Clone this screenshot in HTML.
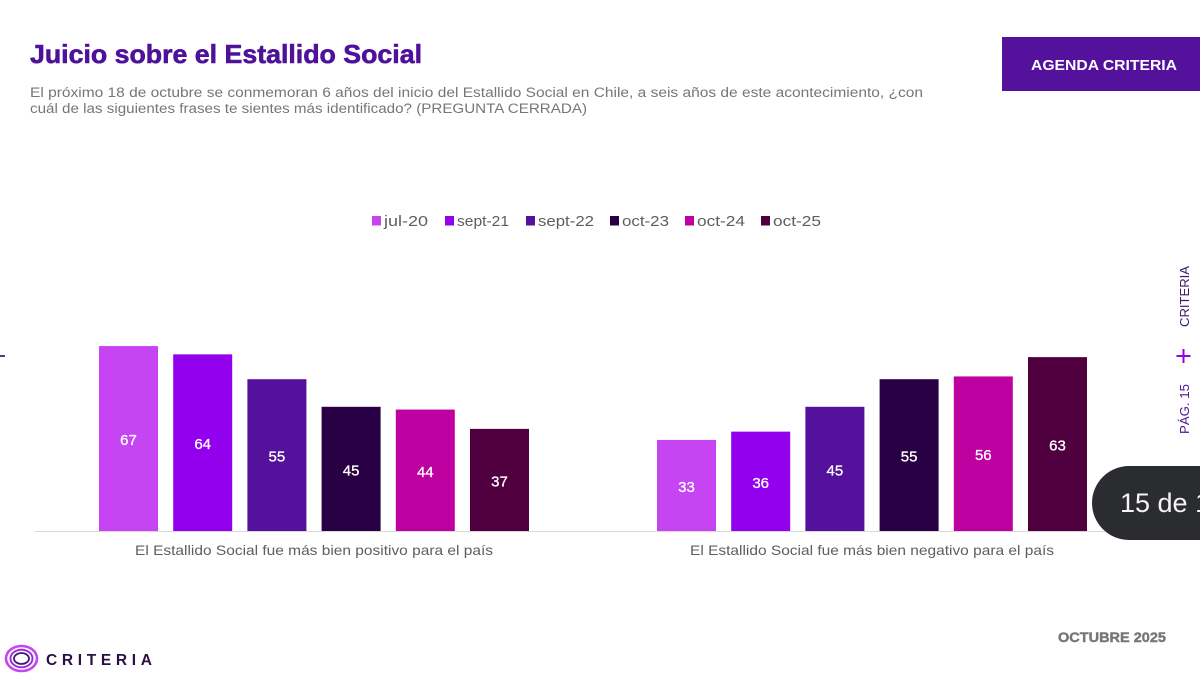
<!DOCTYPE html>
<html lang="es">
<head>
<meta charset="utf-8">
<title>Juicio sobre el Estallido Social</title>
<style>
html,body{margin:0;padding:0;background:#fff;width:1200px;height:682px;overflow:hidden}
svg{display:block;font-family:"Liberation Sans",sans-serif}
</style>
</head>
<body>
<svg id="slide" xmlns="http://www.w3.org/2000/svg" width="1200" height="682" viewBox="0 0 1200 682">
  <rect x="0" y="0" width="1200" height="682" fill="#ffffff"/>
  <text x="30" y="63" font-size="26" font-weight="700" fill="#4e1199" stroke="#4e1199" stroke-width="0.6" textLength="392" lengthAdjust="spacingAndGlyphs">Juicio sobre el Estallido Social</text>
  <text x="30" y="97" font-size="13.5" fill="#77757a" textLength="893" lengthAdjust="spacingAndGlyphs">El próximo 18 de octubre se conmemoran 6 años del inicio del Estallido Social en Chile, a seis años de este acontecimiento, ¿con</text>
  <text x="30" y="113" font-size="13.5" fill="#77757a" textLength="557" lengthAdjust="spacingAndGlyphs">cuál de las siguientes frases te sientes más identificado? (PREGUNTA CERRADA)</text>

  <g>
    <rect x="1002" y="37" width="198" height="54" fill="#54119c"/>
    <text x="1031" y="70" font-size="15" font-weight="700" fill="#ffffff" textLength="146" lengthAdjust="spacingAndGlyphs">AGENDA CRITERIA</text>
  </g>

  <g font-size="15" fill="#5f5d62">
    <g>
      <rect x="372" y="216" width="9" height="9.5" fill="#c644f2"/>
      <text x="384" y="226" textLength="44" lengthAdjust="spacingAndGlyphs">jul-20</text>
    </g>
    <g>
      <rect x="445" y="216" width="9" height="9.5" fill="#9300ee"/>
      <text x="457" y="226" textLength="52" lengthAdjust="spacingAndGlyphs">sept-21</text>
    </g>
    <g>
      <rect x="526" y="216" width="9" height="9.5" fill="#54119c"/>
      <text x="538" y="226" textLength="56" lengthAdjust="spacingAndGlyphs">sept-22</text>
    </g>
    <g>
      <rect x="610" y="216" width="9" height="9.5" fill="#2a0045"/>
      <text x="622" y="226" textLength="47" lengthAdjust="spacingAndGlyphs">oct-23</text>
    </g>
    <g>
      <rect x="685" y="216" width="9" height="9.5" fill="#bf00a0"/>
      <text x="697" y="226" textLength="48" lengthAdjust="spacingAndGlyphs">oct-24</text>
    </g>
    <g>
      <rect x="761" y="216" width="9" height="9.5" fill="#50003f"/>
      <text x="773" y="226" textLength="48" lengthAdjust="spacingAndGlyphs">oct-25</text>
    </g>
  </g>

  <line x1="0" y1="356" x2="5" y2="356" stroke="#2a0a55" stroke-width="1.6"/>
  <g id="chart"></g>

  <g>
    <text transform="translate(1189 327) rotate(-90)" font-size="13" fill="#3d1a66" textLength="61" lengthAdjust="spacingAndGlyphs">CRITERIA</text>
    <path d="M1176.5 356H1190.5M1183.5 349V363" stroke="#9300ee" stroke-width="2" fill="none"/>
    <text transform="translate(1189 434) rotate(-90)" font-size="13" fill="#4e1199" textLength="50" lengthAdjust="spacingAndGlyphs">PÁG. 15</text>
  </g>

  <g>
    <rect x="1092" y="466" width="170" height="74" rx="37" ry="37" fill="#2b2c30"/>
    <text x="1120" y="512" font-size="27" fill="#f4f4f4">15 de 1</text>
  </g>

  <text x="1058" y="642" font-size="13.5" font-weight="700" fill="#77757a" stroke="#77757a" stroke-width="0.4" textLength="108" lengthAdjust="spacingAndGlyphs">OCTUBRE 2025</text>

  <g>
    <ellipse cx="21.5" cy="658.5" rx="15.5" ry="12.5" fill="none" stroke="#c644f2" stroke-width="2.6"/>
    <ellipse cx="21.5" cy="658.5" rx="11" ry="8.8" fill="none" stroke="#9a2fd8" stroke-width="2"/>
    <ellipse cx="21.5" cy="658.5" rx="7.5" ry="5.5" fill="none" stroke="#3b1a78" stroke-width="1.8"/>
    <text x="46" y="665" font-size="15.5" font-weight="700" fill="#2a1045" textLength="106" lengthAdjust="spacing">CRITERIA</text>
  </g>
</svg>

<script>
const categories = [
  "El Estallido Social fue más bien positivo para el país",
  "El Estallido Social fue más bien negativo para el país"
];
const seriesNames = ["jul-20", "sept-21", "sept-22", "oct-23", "oct-24", "oct-25"];
const positiveValues = [67, 64, 55, 45, 44, 37];
const negativeValues = [33, 36, 45, 55, 56, 63];

const seriesColors = ["#c644f2", "#9300ee", "#54119c", "#2a0045", "#bf00a0", "#50003f"];

const SVG_NS = "http://www.w3.org/2000/svg";
const chart = document.getElementById("chart");

const plotLeft = 35;
const bandWidth = 558;
const barWidth = 59;
const barStep = 74.2;
const baseline = 531;
const pixelsPerUnit = 2.76;

function xBand(categoryIndex) {
  return plotLeft + bandWidth * categoryIndex + bandWidth / 2;
}
function xBar(categoryIndex, seriesIndex) {
  const offset = (seriesIndex - (seriesNames.length - 1) / 2) * barStep;
  return xBand(categoryIndex) + offset - barWidth / 2;
}
function yValue(value) {
  return baseline - value * pixelsPerUnit;
}

const groups = [positiveValues, negativeValues];

const axisLine = document.createElementNS(SVG_NS, "line");


axisLine.setAttribute("x1", plotLeft);
axisLine.setAttribute("x2", plotLeft + bandWidth * categories.length);
axisLine.setAttribute("y1", baseline + 0.5);
axisLine.setAttribute("y2", baseline + 0.5);
axisLine.setAttribute("stroke", "#d9d9d9");
axisLine.setAttribute("stroke-width", "1");
chart.appendChild(axisLine);

groups.forEach(function (values, categoryIndex) {
  values.forEach(function (value, seriesIndex) {
    const bar = document.createElementNS(SVG_NS, "rect");
    
    
    bar.setAttribute("x", xBar(categoryIndex, seriesIndex));
    bar.setAttribute("y", yValue(value));
    bar.setAttribute("width", barWidth);
    bar.setAttribute("height", baseline - yValue(value));
    bar.setAttribute("fill", seriesColors[seriesIndex]);
    chart.appendChild(bar);

    const label = document.createElementNS(SVG_NS, "text");
    
    
    label.setAttribute("x", xBar(categoryIndex, seriesIndex) + barWidth / 2);
    label.setAttribute("y", (yValue(value) + baseline) / 2 + 6.5);
    label.setAttribute("text-anchor", "middle");
    label.setAttribute("font-size", "15");
    label.setAttribute("fill", "#ffffff");
    label.setAttribute("stroke", "#ffffff");
    label.setAttribute("stroke-width", "0.3");
    label.textContent = value;
    chart.appendChild(label);
  });

  const categoryLabel = document.createElementNS(SVG_NS, "text");
  
  
  categoryLabel.setAttribute("x", xBand(categoryIndex));
  categoryLabel.setAttribute("y", 555);
  categoryLabel.setAttribute("text-anchor", "middle");
  categoryLabel.setAttribute("font-size", "14");
  categoryLabel.setAttribute("fill", "#5f5d62");
  categoryLabel.setAttribute("textLength", categoryIndex === 0 ? 358 : 364);
  categoryLabel.setAttribute("lengthAdjust", "spacingAndGlyphs");
  categoryLabel.textContent = categories[categoryIndex];
  chart.appendChild(categoryLabel);
});
</script>
</body>
</html>
